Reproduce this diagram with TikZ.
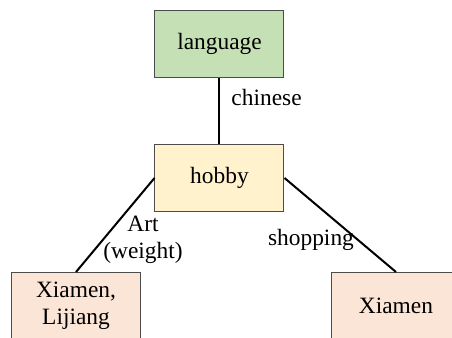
\documentclass[tikz,border=0pt]{standalone}
\usepackage{fontspec}
\setmainfont{Liberation Serif}
\usepackage{xcolor}
\definecolor{LangGreen}{HTML}{C5E0B4}
\definecolor{HobbyYellow}{HTML}{FFF2CC}
\definecolor{PlacePeach}{HTML}{FBE5D6}
\tikzset{
  box/.style={draw=black!70,line width=0.5pt,minimum width=64.5pt,
    minimum height=33.5pt,inner sep=0pt,align=center},
  link/.style={line width=1pt},
  lbl/.style={inner sep=0pt,align=center}
}
\begin{document}
\begin{tikzpicture}[x=0.5pt,y=-0.5pt,font=\fontsize{11.7}{13.5}\selectfont]%
  \coordinate (A) at (0,0); \coordinate (B) at (452,338);
  \path[use as bounding box,fill=white] (A) rectangle (B);
  \clip (A) rectangle (B);
  \node[box,fill=LangGreen] (lang) at (219.5,43.5) {language};
  \node[box,fill=HobbyYellow] (hobby) at (219.5,178) {hobby};
  \node[box,fill=PlacePeach] (xl) at (76,306) {Xiamen,\\Lijiang};
  \node[box,fill=PlacePeach] (xm) at (396,306) {Xiamen};
  \draw[link] (lang) --
    node[lbl,pos=0.3,anchor=west,xshift=5.5pt] (lchin) {chinese} (hobby);
  \draw[link] (hobby.west) -- (xl.north);
  \draw[link] (hobby.east) -- (xm.north);
  \node[lbl] (lart) at (143,240) {Art\\(weight)};
  \node[lbl] (lshop) at (311,240) {shopping};
\end{tikzpicture}
\end{document}
